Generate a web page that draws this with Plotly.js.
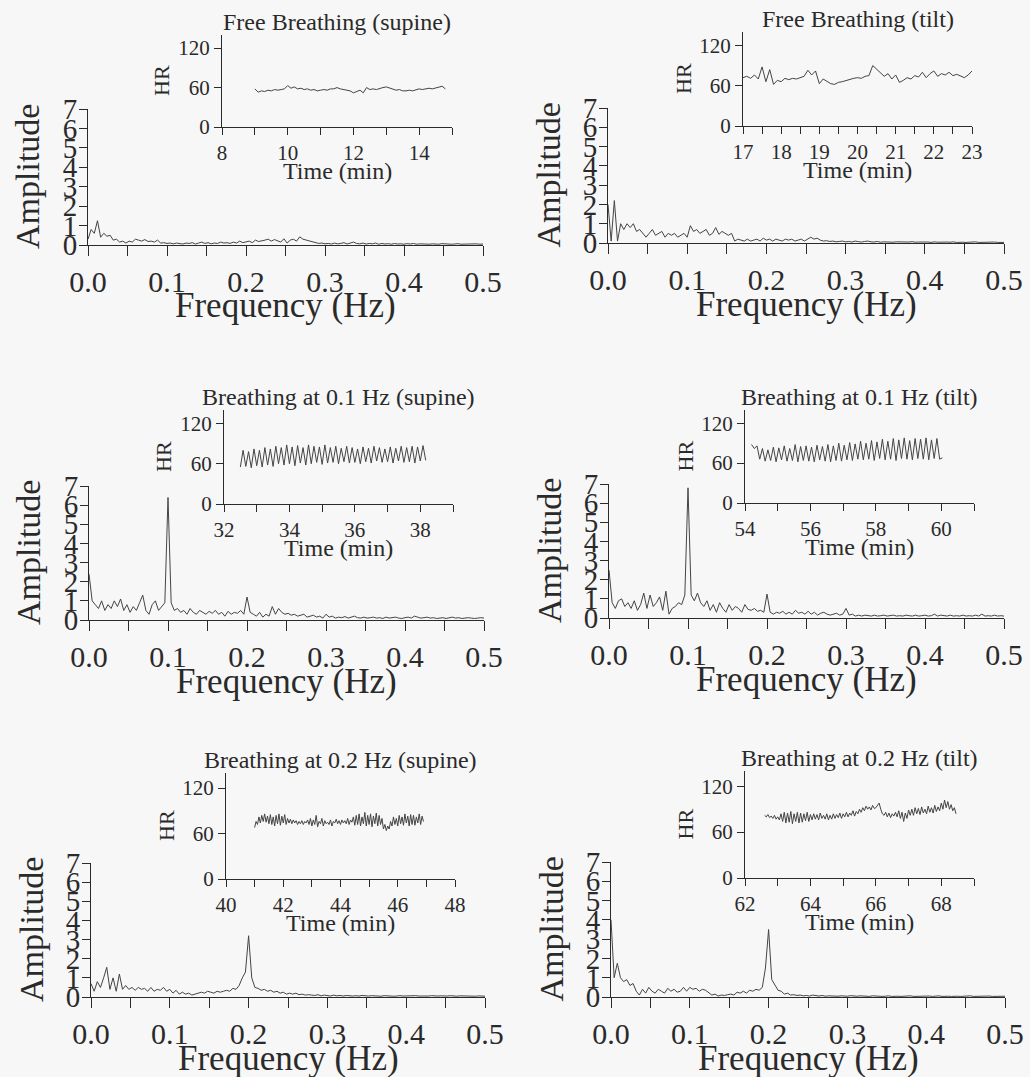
<!DOCTYPE html>
<html><head><meta charset="utf-8">
<script src="https://cdn.plot.ly/plotly-3.0.1.min.js"></script>
<style>html,body{margin:0;padding:0;background:#f7f7f7;}#chart{width:1030px;height:1077px;}</style>
</head><body><div id="chart"></div>
<script>
// ---------- DATA ----------
// Spectra: amplitude every 0.004 Hz from 0 to 0.5 Hz
const freqStep = 0.004;
const specFreeSupine = [
0.3,0.8,0.6,1.25,0.4,0.6,0.45,0.5,0.25,0.3,
0.15,0.2,0.1,0.2,0.15,0.3,0.25,0.2,0.28,0.18,
0.2,0.15,0.25,0.1,0.12,0.08,0.1,0.06,0.1,0.08,
0.05,0.1,0.08,0.12,0.05,0.1,0.15,0.08,0.12,0.06,
0.1,0.08,0.15,0.1,0.12,0.08,0.15,0.1,0.2,0.12,
0.15,0.2,0.12,0.25,0.18,0.2,0.25,0.3,0.2,0.28,
0.22,0.15,0.32,0.1,0.25,0.3,0.2,0.42,0.3,0.25,
0.2,0.15,0.12,0.08,0.1,0.06,0.08,0.05,0.1,0.06,
0.08,0.12,0.05,0.1,0.15,0.08,0.06,0.1,0.05,0.08,
0.06,0.1,0.04,0.08,0.05,0.07,0.04,0.08,0.05,0.06,
0.04,0.07,0.05,0.08,0.04,0.06,0.05,0.07,0.04,0.06,
0.05,0.04,0.07,0.05,0.06,0.04,0.05,0.07,0.04,0.05,
0.06,0.04,0.05,0.06,0.04,0.05];
const specFreeTilt = [
2.0,0.1,2.2,0.1,1.0,0.7,1.0,0.8,1.0,0.6,
0.7,0.5,0.3,0.5,0.7,0.4,0.5,0.6,0.3,0.5,
0.4,0.5,0.3,0.4,0.5,0.3,0.9,0.6,0.7,0.5,
0.6,0.7,0.4,0.5,0.8,0.45,0.6,0.5,0.4,0.5,
0.1,0.2,0.15,0.1,0.2,0.1,0.15,0.2,0.1,0.25,
0.15,0.2,0.1,0.2,0.15,0.1,0.2,0.15,0.2,0.1,
0.15,0.2,0.1,0.2,0.3,0.2,0.25,0.15,0.1,0.12,
0.08,0.1,0.06,0.08,0.1,0.06,0.08,0.05,0.1,0.07,
0.05,0.08,0.1,0.06,0.05,0.08,0.04,0.06,0.05,0.07,
0.04,0.06,0.05,0.04,0.06,0.05,0.07,0.04,0.05,0.06,
0.04,0.05,0.03,0.06,0.04,0.05,0.03,0.05,0.04,0.06,
0.03,0.05,0.04,0.03,0.05,0.04,0.06,0.03,0.04,0.05,
0.03,0.04,0.05,0.03,0.04,0.03];
const specSlow01Supine = [
2.4,1.0,0.8,0.6,1.0,0.5,0.8,0.6,1.0,0.7,
1.1,0.5,0.8,0.4,0.7,0.5,0.9,1.3,0.5,0.3,
0.8,1.0,0.5,0.7,0.9,6.4,0.9,0.5,0.6,0.4,
0.5,0.3,0.6,0.4,0.3,0.5,0.4,0.3,0.45,0.35,
0.5,0.3,0.4,0.2,0.45,0.3,0.4,0.35,0.5,0.3,
1.2,0.4,0.3,0.2,0.4,0.15,0.3,0.2,0.7,0.3,
0.6,0.4,0.3,0.35,0.25,0.3,0.2,0.25,0.3,0.15,
0.2,0.25,0.15,0.2,0.1,0.3,0.15,0.2,0.1,0.15,
0.12,0.18,0.1,0.15,0.2,0.12,0.1,0.15,0.1,0.12,
0.15,0.1,0.12,0.08,0.15,0.1,0.12,0.15,0.1,0.08,
0.12,0.15,0.1,0.2,0.15,0.1,0.12,0.15,0.1,0.12,
0.08,0.1,0.12,0.08,0.1,0.15,0.1,0.12,0.08,0.1,
0.12,0.1,0.08,0.1,0.12,0.1];
const specSlow01Tilt = [
2.5,0.8,0.5,0.9,1.0,0.6,0.8,0.5,0.9,0.4,
0.7,1.3,0.5,1.2,0.6,0.8,1.1,0.4,1.4,0.2,
0.5,0.6,0.8,0.7,1.2,6.8,1.2,0.9,1.3,0.8,
0.6,0.9,0.4,0.7,0.3,0.8,0.5,0.3,0.7,0.4,
0.6,0.5,0.3,0.7,0.45,0.4,0.5,0.35,0.4,0.3,
1.25,0.3,0.2,0.3,0.25,0.35,0.2,0.3,0.2,0.4,
0.25,0.3,0.2,0.35,0.2,0.3,0.15,0.25,0.3,0.2,
0.15,0.2,0.25,0.15,0.2,0.5,0.15,0.2,0.1,0.15,
0.1,0.15,0.12,0.1,0.15,0.1,0.12,0.15,0.1,0.12,
0.15,0.1,0.12,0.1,0.15,0.12,0.1,0.15,0.1,0.12,
0.15,0.1,0.12,0.2,0.1,0.15,0.12,0.1,0.15,0.1,
0.12,0.1,0.15,0.1,0.12,0.1,0.15,0.1,0.2,0.1,
0.12,0.1,0.15,0.1,0.12,0.1];
const specSlow02Supine = [
0.7,0.3,0.8,0.5,1.0,1.55,0.4,1.0,0.3,1.2,
0.4,0.6,0.4,0.5,0.35,0.5,0.4,0.45,0.3,0.5,
0.3,0.4,0.35,0.5,0.3,0.4,0.2,0.35,0.15,0.25,
0.15,0.2,0.1,0.15,0.2,0.25,0.2,0.3,0.25,0.2,
0.3,0.25,0.3,0.35,0.3,0.45,0.4,0.6,1.0,1.3,
3.2,1.0,0.5,0.45,0.35,0.4,0.3,0.35,0.25,0.3,
0.2,0.25,0.15,0.2,0.15,0.2,0.12,0.15,0.1,0.12,
0.1,0.08,0.12,0.06,0.1,0.08,0.05,0.1,0.06,0.08,
0.05,0.08,0.06,0.05,0.07,0.05,0.08,0.06,0.05,0.07,
0.05,0.06,0.04,0.07,0.05,0.06,0.04,0.05,0.07,0.05,
0.06,0.04,0.05,0.07,0.05,0.04,0.06,0.05,0.07,0.04,
0.05,0.06,0.04,0.05,0.07,0.05,0.04,0.06,0.05,0.04,
0.06,0.05,0.04,0.06,0.05,0.04];
const specSlow02Tilt = [
4.0,1.0,1.75,1.0,0.8,0.9,0.6,0.7,0.3,0.1,
0.4,0.2,0.5,0.3,0.2,0.4,0.3,0.2,0.45,0.3,
0.4,0.25,0.3,0.5,0.3,0.5,0.4,0.45,0.3,0.4,
0.35,0.2,0.1,0.15,0.05,0.1,0.08,0.12,0.15,0.1,
0.25,0.2,0.3,0.2,0.35,0.3,0.4,0.35,0.5,1.5,
3.5,0.9,0.6,0.35,0.3,0.15,0.2,0.1,0.12,0.08,
0.1,0.06,0.08,0.05,0.1,0.06,0.05,0.08,0.04,0.06,
0.05,0.07,0.04,0.06,0.05,0.04,0.07,0.05,0.04,0.06,
0.04,0.05,0.03,0.06,0.04,0.05,0.03,0.04,0.06,0.03,
0.05,0.04,0.03,0.05,0.04,0.06,0.03,0.04,0.05,0.03,
0.04,0.05,0.03,0.04,0.06,0.03,0.05,0.04,0.03,0.05,
0.04,0.03,0.05,0.04,0.06,0.03,0.04,0.05,0.03,0.04,
0.05,0.03,0.04,0.05,0.03,0.04];

// Heart rate (bpm) sampled at a fixed step (min) from a start time (min)
const hrFreeSupineStart = 9.0, hrFreeSupineStep = 0.1;
const hrFreeSupine = [
58,53,55,54,56,55,57,56,57,58,
63,59,61,58,59,57,58,56,57,55,
56,57,56,58,58,60,58,57,56,55,
52,54,56,52,60,57,58,57,59,60,
61,59,58,56,57,55,55,56,55,56,
58,57,58,59,58,59,60,62,58];
const hrFreeTiltStart = 17.0, hrFreeTiltStep = 0.1;
const hrFreeTilt = [
72,74,71,76,70,88,66,84,62,68,
66,71,69,71,70,72,74,83,76,82,
63,70,66,63,62,65,66,68,70,71,
72,71,74,75,90,85,80,74,78,70,
76,65,68,72,70,75,73,80,72,78,
82,74,78,76,80,75,77,74,72,76,
82];
const hrSlow01SupineStart = 32.5, hrSlow01SupineStep = 1/12;
const hrSlow01Supine = [
55,80,56,78,54,82,57,80,55,84,58,82,56,86,60,84,58,88,60,85,
57,87,61,84,58,88,60,86,62,85,59,88,61,84,62,86,60,83,63,86,
61,84,62,82,60,85,63,83,61,86,64,84,62,82,63,85,61,83,64,86,
62,84,63,86,61,85,64,87,65];
const hrSlow01TiltStart = 54.2, hrSlow01TiltStep = 1/12;
const hrSlow01Tilt = [
88,82,86,66,82,63,80,64,84,62,83,65,86,63,82,64,88,62,85,64,
86,63,84,62,87,65,85,63,88,62,86,64,90,63,87,65,91,64,89,66,
93,65,90,66,94,64,92,67,96,65,93,66,97,64,95,67,98,66,94,65,
97,67,96,66,98,65,95,67,97,66,68];
const hrSlow02SupineStart = 41.0, hrSlow02SupineStep = 0.05;
const hrSlow02Supine = [
68,76,72,82,74,84,76,86,75,83,
73,85,72,82,70,84,73,86,71,83,
74,85,72,80,74,79,73,78,74,77,
72,76,73,77,72,76,74,78,72,80,
70,78,72,84,69,76,73,80,70,77,
73,75,72,78,70,76,74,79,73,77,
72,78,74,77,73,80,72,78,75,82,
71,84,72,86,70,82,73,88,70,84,
72,86,69,83,73,87,70,84,72,80,
66,72,64,70,66,76,70,82,72,80,
70,84,73,82,71,86,74,83,70,85,
72,84,71,82,74,86,72,83,76];
const hrSlow02TiltStart = 62.6, hrSlow02TiltStep = 0.05;
const hrSlow02Tilt = [
82,80,83,79,81,78,82,77,80,76,
84,74,86,72,85,73,87,71,84,74,
86,72,85,73,84,75,86,74,83,76,
84,77,83,76,85,78,82,77,84,76,
82,77,84,78,83,79,85,78,84,80,
86,80,85,82,88,81,87,84,90,86,
92,88,94,90,93,89,95,91,92,96,
98,90,84,82,86,80,85,79,84,81,
86,80,88,78,86,74,85,78,89,82,
90,82,92,84,91,83,93,85,90,84,
94,86,92,85,95,87,93,88,98,90,
102,92,100,90,96,88,92,84];

const panelTitles = ['Free Breathing (supine)','Free Breathing (tilt)',
  'Breathing at 0.1 Hz (supine)','Breathing at 0.1 Hz (tilt)',
  'Breathing at 0.2 Hz (supine)','Breathing at 0.2 Hz (tilt)'];
const freqTickVals = [0,0.05,0.1,0.15,0.2,0.25,0.3,0.35,0.4,0.45,0.5];
const freqTickText = ['0.0','','0.1','','0.2','','0.3','','0.4','','0.5'];
const ampTickVals = [0,1,2,3,4,5,6,7];
const hrTickVals = [0,60,120];
const insetRanges = [[8,15],[17,23],[32,39],[54,61],[40,48],[62,69]];
const insetTickSteps = [1,0.5,1,1,1,1];
const insetLabelSteps = [2,1,2,2,2,2];

// ---------- LAYOUT GEOMETRY (pixels) ----------
const W = 1030, H = 1077;
const mainBoxes = [[88,483,109,245],[608,1004,108,243],[89,484,486,620],[609,1004,484,618],[91,485,863,997],[611,1005,862,997]];
const insetBoxes = [[222,452,35,127],[743,972,32,126],[224,453,410,504],[745,974,410,503],[226,455,773,879],[745,974,771,878]];
const spectra = [specFreeSupine,specFreeTilt,specSlow01Supine,specSlow01Tilt,specSlow02Supine,specSlow02Tilt];
const hrs = [
  [hrFreeSupine,hrFreeSupineStart,hrFreeSupineStep],
  [hrFreeTilt,hrFreeTiltStart,hrFreeTiltStep],
  [hrSlow01Supine,hrSlow01SupineStart,hrSlow01SupineStep],
  [hrSlow01Tilt,hrSlow01TiltStart,hrSlow01TiltStep],
  [hrSlow02Supine,hrSlow02SupineStart,hrSlow02SupineStep],
  [hrSlow02Tilt,hrSlow02TiltStart,hrSlow02TiltStep]];

const FONT = 'Liberation Serif, Times New Roman, serif';
const INK = '#2a2a2a';
const px = v => v / W;
const py = v => 1 - v / H;

const layout = {
  width: W, height: H, margin: {l:0,r:0,t:0,b:0},
  paper_bgcolor: '#f7f7f7', plot_bgcolor: 'rgba(0,0,0,0)',
  showlegend: false, annotations: [], font: {family: FONT, color: INK}
};
const traces = [];
const axName = (p, n) => p + (n === 1 ? '' : n);

for (let k = 0; k < 6; k++) {
  const m = 2*k + 1, n = 2*k + 2;
  const [mx0, mx1, my0, my1] = mainBoxes[k];
  const [ix0, ix1, iy0, iy1] = insetBoxes[k];
  const common = {showline: true, linecolor: INK, linewidth: 1, ticks: 'outside', tickcolor: INK,
    tickwidth: 1, showgrid: false, zeroline: false, fixedrange: true};
  layout[axName('xaxis', m)] = Object.assign({}, common, {
    domain: [px(mx0), px(mx1)], anchor: axName('y', m), range: [0, 0.5],
    tickmode: 'array', tickvals: freqTickVals, ticktext: freqTickText, ticklen: 10,
    ticklabelstandoff: 0, tickfont: {family: FONT, size: 30, color: INK}});
  layout[axName('yaxis', m)] = Object.assign({}, common, {
    domain: [py(my1), py(my0)], anchor: axName('x', m), range: [0, 7],
    tickmode: 'array', tickvals: ampTickVals, ticklen: 8, ticklabelstandoff: -4,
    tickfont: {family: FONT, size: 29, color: INK}});
  const [lo, hi] = insetRanges[k];
  const tv = [], tt = [];
  for (let v = lo; v <= hi + 1e-9; v += insetTickSteps[k]) {
    const r = Math.round(v * 100) / 100;
    tv.push(r);
    tt.push(Math.abs(r / insetLabelSteps[k] - Math.round(r / insetLabelSteps[k])) < 1e-6 ? String(r) : '');
  }
  layout[axName('xaxis', n)] = Object.assign({}, common, {
    domain: [px(ix0), px(ix1)], anchor: axName('y', n), range: [lo, hi],
    tickmode: 'array', tickvals: tv, ticktext: tt, ticklen: 7,
    tickfont: {family: FONT, size: 21, color: INK}});
  layout[axName('yaxis', n)] = Object.assign({}, common, {
    domain: [py(iy1), py(iy0)], anchor: axName('x', n), range: [0, 140],
    tickmode: 'array', tickvals: hrTickVals, ticklen: 7,
    tickfont: {family: FONT, size: 21, color: INK}});

  const spec = spectra[k];
  traces.push({type: 'scatter', mode: 'lines', x: spec.map((_, i) => i * freqStep), y: spec,
    xaxis: axName('x', m), yaxis: axName('y', m), line: {color: '#444', width: 1}, hoverinfo: 'skip'});
  const [hr, t0, dt] = hrs[k];
  traces.push({type: 'scatter', mode: 'lines', x: hr.map((_, i) => t0 + i * dt), y: hr,
    xaxis: axName('x', n), yaxis: axName('y', n), line: {color: '#444', width: 1}, hoverinfo: 'skip'});

  const A = layout.annotations;
  const ann = (x, y, text, size, angle) => A.push({xref: 'paper', yref: 'paper', x: px(x), y: py(y),
    text, showarrow: false, xanchor: 'center', yanchor: 'middle', textangle: angle || 0,
    font: {family: FONT, size, color: INK}});
  ann(mx0 - 60, (my0 + my1) / 2, 'Amplitude', 34, -90);
  ann((mx0 + mx1) / 2, my1 + 61, 'Frequency (Hz)', 35);
  ann((ix0 + ix1) / 2, iy0 - 13, panelTitles[k], 24);
  ann(ix0 - 60, (iy0 + iy1) / 2, 'HR', 22, -90);
  ann((ix0 + ix1) / 2, iy1 + 44, 'Time (min)', 24);
}

Plotly.newPlot('chart', traces, layout, {staticPlot: true, displayModeBar: false});
</script></body></html>
